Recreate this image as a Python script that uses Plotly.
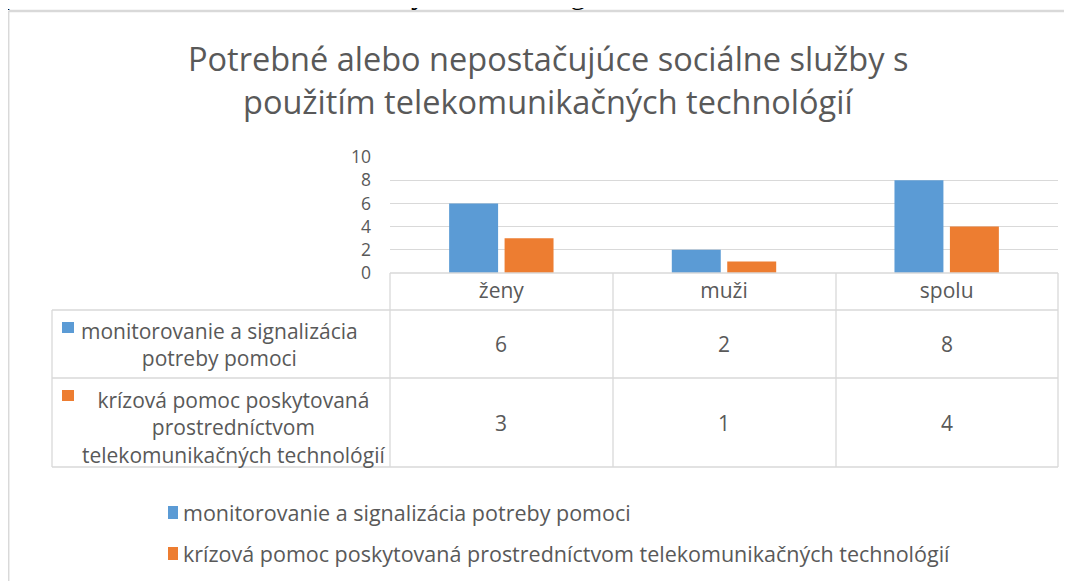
import plotly.graph_objects as go

# page body has an 8px default margin; map reference pixels to figure pixels
OFF = 8
W, H = 1072 - OFF, 581 - OFF

title_lines = ["Potrebné alebo nepostačujúce sociálne služby s", "použitím telekomunikačných technológií"]
categories = ["ženy", "muži", "spolu"]
series_names = ["monitorovanie a signalizácia potreby pomoci",
                "krízová pomoc poskytovaná prostredníctvom telekomunikačných technológií"]
table_labels = ["monitorovanie a signalizácia<br>potreby pomoci",
                "krízová pomoc poskytovaná<br>prostredníctvom<br>telekomunikačných technológií"]
monitorovanie = [6, 2, 8]
krizova = [3, 1, 4]
y_ticks = [0, 2, 4, 6, 8, 10]
colors = ["#5B9BD5", "#ED7D31"]
top_text = "prostredníctvom telekomunikačných technológií."

FONT = "Open Sans"
TXT = "#595959"
GRID = "#D9D9D9"


def px(x):
    return (x - OFF) / W


def py(y):
    return 1 - (y - OFF) / H


# layout geometry (reference pixels)
PL, PR, PT, PB = 390, 1058, 157, 273
TL = 52
row_y = [PB, 310, 378, 467]
col_x = [PL, 613, 836, PR]

fig = go.Figure()
for name, vals, c in zip(series_names, [monitorovanie, krizova], colors):
    fig.add_trace(go.Bar(x=categories, y=vals, name=name, marker=dict(color=c, line=dict(width=0)),
                         showlegend=False))

shapes = []
line = dict(color=GRID, width=1.3)
# outer chart frame
shapes.append(dict(type="line", xref="paper", yref="paper", x0=px(8.7), x1=px(1072), y0=py(11), y1=py(11),
                   line=dict(color=GRID, width=2.5)))
shapes.append(dict(type="line", xref="paper", yref="paper", x0=px(8.7), x1=px(8.7), y0=py(11), y1=py(581),
                   line=dict(color=GRID, width=1.5)))
# table horizontal lines
shapes.append(dict(type="line", xref="paper", yref="paper", x0=px(PL), x1=px(PR), y0=py(PB), y1=py(PB), line=line))
for yy in row_y[1:]:
    shapes.append(dict(type="line", xref="paper", yref="paper", x0=px(TL), x1=px(PR), y0=py(yy), y1=py(yy), line=line))
# table vertical lines
shapes.append(dict(type="line", xref="paper", yref="paper", x0=px(TL), x1=px(TL), y0=py(row_y[1]), y1=py(row_y[3]), line=line))
for xx in col_x:
    shapes.append(dict(type="line", xref="paper", yref="paper", x0=px(xx), x1=px(xx), y0=py(PB), y1=py(row_y[3]), line=line))

annotations = []
# clipped body text above the chart
annotations.append(dict(text=top_text, xref="paper", yref="paper", x=px(0), y=py(-8), xanchor="left",
                        yanchor="middle", showarrow=False,
                        font=dict(family="Liberation Serif", size=31, color="#000000")))
# title
for i, t in enumerate(title_lines):
    annotations.append(dict(text=t, xref="paper", yref="paper", x=px(548), y=py(58 + 43 * i), xanchor="center",
                            yanchor="middle", showarrow=False, font=dict(family=FONT, size=32.5, color=TXT)))

# table row labels with markers
label_cx = [219, 233]
label_cy = [344, 427]
for r, (lab, c) in enumerate(zip(table_labels, colors)):
    y0 = row_y[r + 1]
    annotations.append(dict(text=lab, xref="paper", yref="paper", x=px(label_cx[r]), y=py(label_cy[r]),
                            xanchor="center", yanchor="middle", showarrow=False, align="center",
                            font=dict(family=FONT, size=21, color=TXT)))
    my = y0 + 12
    shapes.append(dict(type="rect", xref="paper", yref="paper", x0=px(62), x1=px(74), y0=py(my), y1=py(my + 11),
                       fillcolor=c, line=dict(width=0)))

# table values
for r, vals in enumerate([monitorovanie, krizova]):
    y0, y1 = row_y[r + 1], row_y[r + 2]
    for cat, v in zip(categories, vals):
        annotations.append(dict(text=str(v), xref="x", yref="paper", x=cat, y=py((y0 + y1) / 2),
                                xanchor="center", yanchor="middle", showarrow=False,
                                font=dict(family=FONT, size=21, color=TXT)))

# bottom legend (drawn manually)
leg_y = [512, 553]
for name, c, yy in zip(series_names, colors, leg_y):
    shapes.append(dict(type="rect", xref="paper", yref="paper", x0=px(168), x1=px(178), y0=py(yy - 6),
                       y1=py(yy + 7), fillcolor=c, line=dict(width=0)))
    annotations.append(dict(text=name, xref="paper", yref="paper", x=px(181), y=py(yy), xanchor="left",
                            yanchor="middle", showarrow=False, font=dict(family=FONT, size=21.5, color=TXT)))

fig.update_layout(
    width=W, height=H,
    margin=dict(l=0, r=0, t=0, b=0),
    paper_bgcolor="white", plot_bgcolor="white",
    barmode="group", bargap=0.502, bargroupgap=0.117,
    font=dict(family=FONT, color=TXT),
    xaxis=dict(domain=[px(PL), px(PR)], showgrid=False, showline=False, zeroline=False, ticks="",
               tickfont=dict(family=FONT, size=21, color=TXT), ticklabelstandoff=3, automargin=False),
    yaxis=dict(domain=[py(PB), py(PT)], range=[0, 10], tickvals=y_ticks, showgrid=True, gridcolor=GRID,
               gridwidth=1.3, zeroline=False, showline=False, ticks="", automargin=False,
               tickfont=dict(family=FONT, size=17.5, color=TXT), ticklabelstandoff=18),
    showlegend=False,
    shapes=shapes,
    annotations=annotations,
)

fig.write_html("out.html")
